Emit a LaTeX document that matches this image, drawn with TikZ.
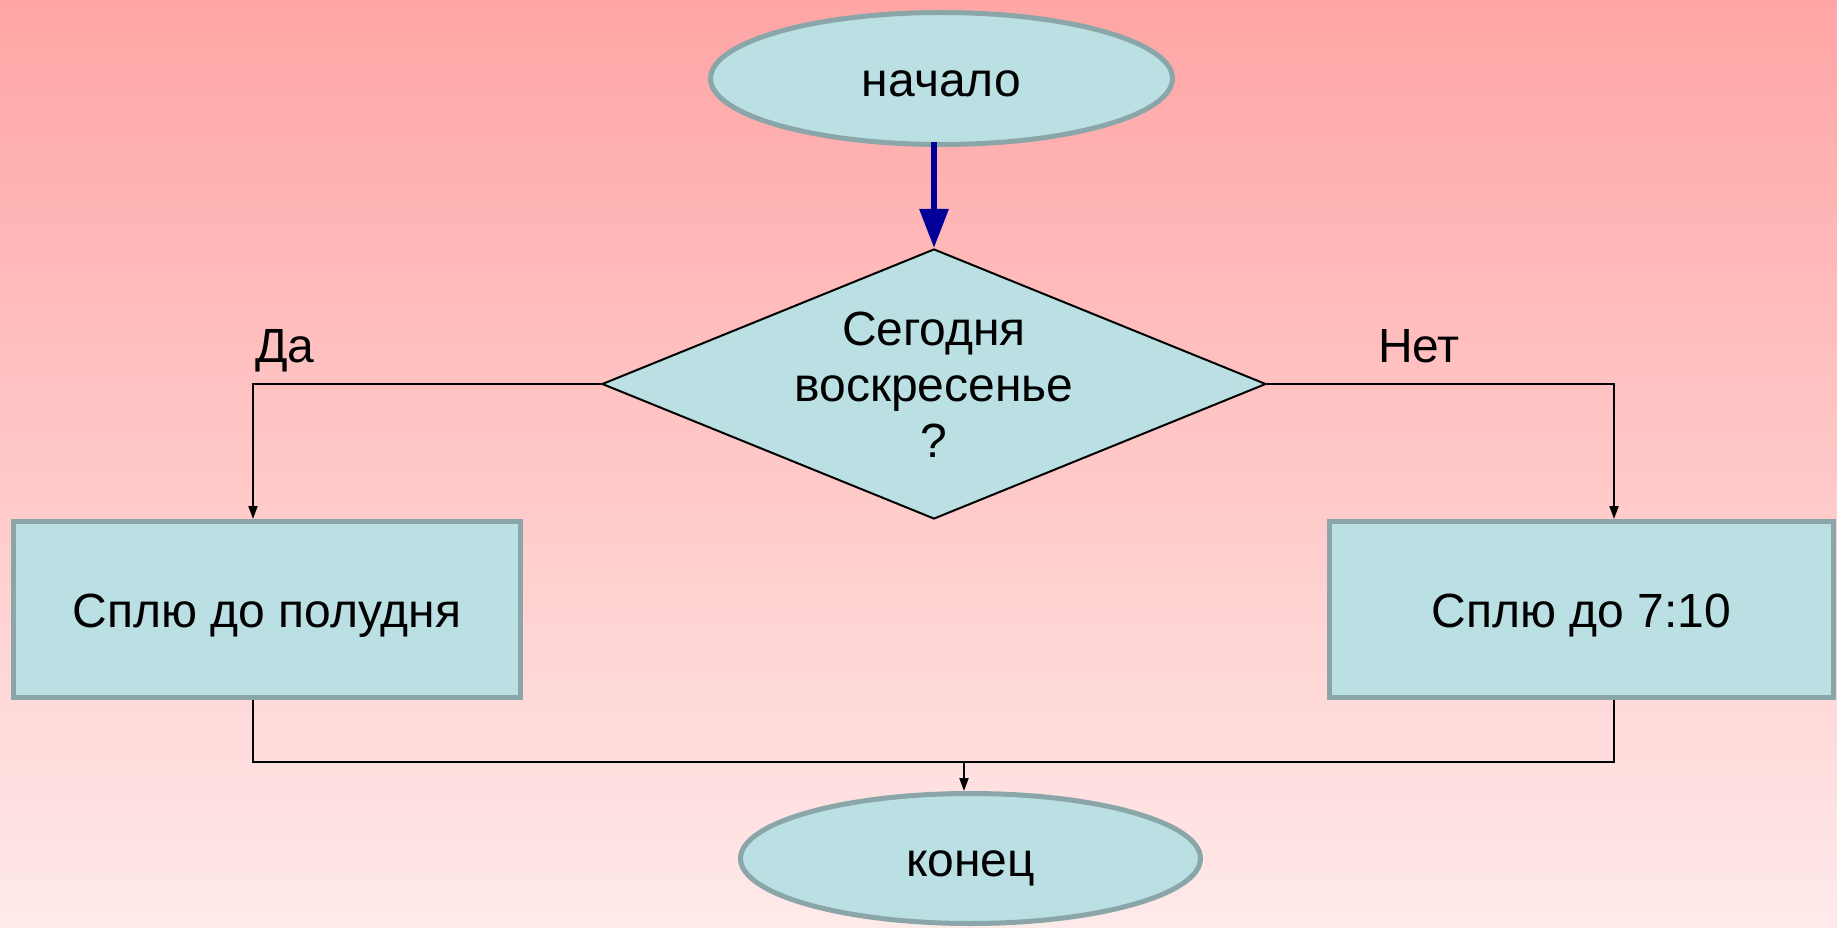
\documentclass[tikz,border=0pt]{standalone}
\usepackage{fontspec}
\setmainfont{Liberation Sans}
\usetikzlibrary{shapes.geometric,arrows.meta}
\definecolor{bgtop}{RGB}{255,165,165}
\definecolor{bgbot}{RGB}{255,234,234}
\definecolor{nodefill}{RGB}{186,224,227}
\definecolor{nodeline}{RGB}{138,166,168}
\definecolor{flowblue}{RGB}{0,0,153}
\tikzset{
  txt/.style={font=\fontsize{48}{56}\selectfont, text=black},
  termnode/.style={ellipse, draw=nodeline, fill=nodefill, line width=5pt, inner sep=0pt, txt, text height=40pt, text depth=4pt},
  procnode/.style={rectangle, draw=nodeline, fill=nodefill, line width=5pt, inner sep=0pt, txt, text height=40pt, text depth=4pt},
  decnode/.style={diamond, draw=black, fill=nodefill, line width=2pt, inner sep=0pt},
  conn/.style={draw=black, line width=2pt},
  connarrow/.style={conn, -{Triangle[width=9pt,length=13pt]}},
  bluearrow/.style={draw=flowblue, line width=6pt, -{Triangle[width=28pt,length=39pt]}},
}
\begin{document}
\begin{tikzpicture}[x=1pt,y=-1pt]
\useasboundingbox (0,0) rectangle (1837,928);
\shade[top color=bgtop, bottom color=bgbot] (0,0) rectangle (1837,928);

\node[termnode, minimum width=462pt, minimum height=132pt] (start) at (941.5,78.5) {начало};
\node[decnode, minimum width=664pt, minimum height=270pt] (dia) at (934,384) {};
\node[txt, align=center, inner sep=0pt, text height=152pt, text depth=4pt] (dtext) at (934,383) {Сегодня\\воскресенье\\?};
\node[procnode, minimum width=507pt, minimum height=176pt] (lbox) at (267,609.5) {Сплю до полудня};
\node[procnode, minimum width=504pt, minimum height=176pt] (rbox) at (1581.5,609.5) {Сплю до 7:10};
\node[termnode, minimum width=460pt, minimum height=130pt] (end) at (970.5,858.5) {конец};

\node[txt, anchor=base west, inner sep=0pt] (yes) at (255,362) {Да};
\node[txt, anchor=base west, inner sep=0pt] (no) at (1378,362) {Нет};

\coordinate (lc) at (253,384);
\coordinate (rc) at (1614,384);
\coordinate (lb) at (253,762);
\coordinate (rb) at (1614,762);
\coordinate (mb) at (964,762);
\coordinate (st) at (934,142);

\draw[bluearrow] (st) -- (dia.north);
\draw[connarrow] (dia.west) -- (lc) -- (lc |- lbox.north);
\draw[connarrow] (dia.east) -- (rc) -- (rc |- rbox.north);
\draw[conn] (lc |- lbox.south) -- (lb) -- (rb) -- (rc |- rbox.south);
\draw[connarrow] (mb) -- (mb |- end.north);
\end{tikzpicture}
\end{document}
